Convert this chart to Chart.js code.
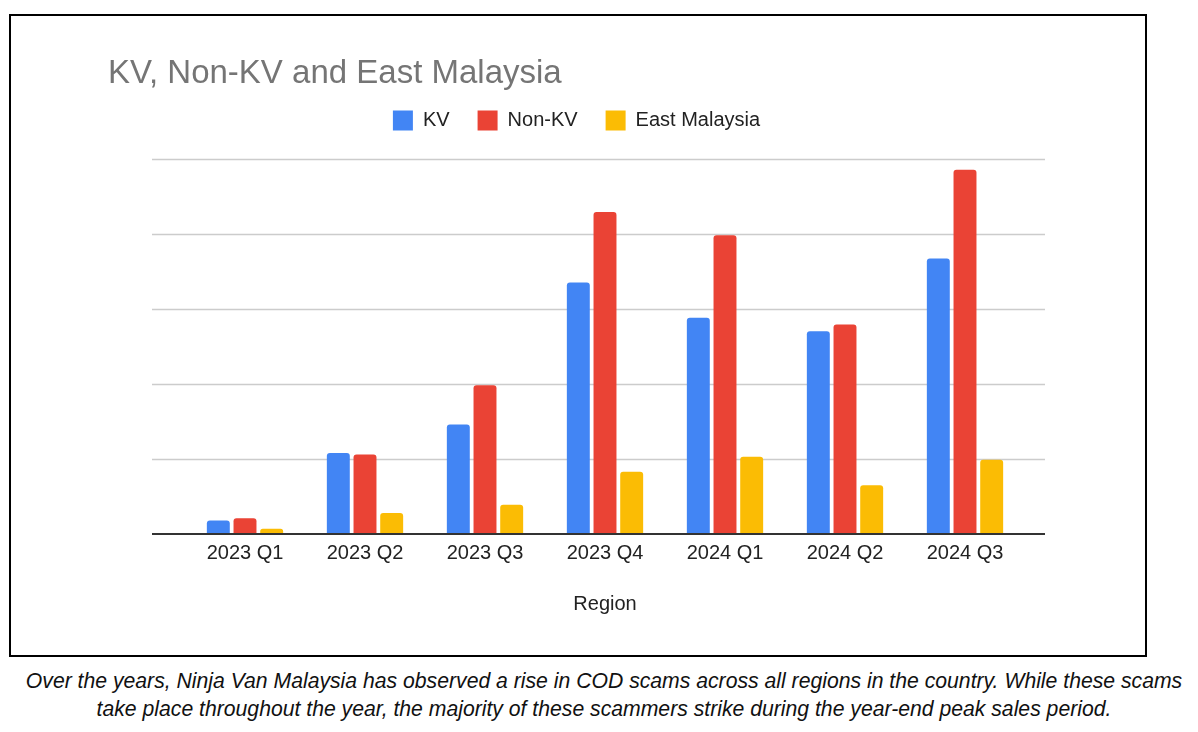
<!DOCTYPE html>
<html>
<head>
<meta charset="utf-8">
<script src="https://cdn.jsdelivr.net/npm/chart.js@4.4.1/dist/chart.umd.min.js"></script>
<style>
  body { margin: 0; background: #fff; width: 1198px; height: 732px; position: relative; overflow: hidden; }
  #box { position: absolute; left: 9px; top: 14px; width: 1138px; height: 643px; border: 2px solid #000; box-sizing: border-box; }
  #wrap { position: absolute; left: 0; top: 0; width: 1134px; height: 639px; }
  #caption { position: absolute; left: 10px; top: 667px; width: 1188px; text-align: center;
    font-family: "Liberation Sans", Arial, sans-serif; font-style: italic; font-size: 21.2px; line-height: 28px; color: #111; }
</style>
</head>
<body>
<div id="box"><div id="wrap"><canvas id="chart"></canvas></div></div>
<div id="caption">Over the years, Ninja Van Malaysia has observed a rise in COD scams across all regions in the country. While these scams<br>take place throughout the year, the majority of these scammers strike during the year-end peak sales period.</div>
<script>
// data (y axis unlabeled, units = gridline steps)
const quarters = ["2023 Q1", "2023 Q2", "2023 Q3", "2023 Q4", "2024 Q1", "2024 Q2", "2024 Q3"];
const kv = [0.18, 1.08, 1.46, 3.35, 2.88, 2.70, 3.67];
const nonKv = [0.21, 1.06, 1.98, 4.29, 3.98, 2.79, 4.85];
const eastMy = [0.07, 0.28, 0.39, 0.83, 1.03, 0.65, 0.99];
const gridValues = [1, 2, 3, 4, 5];

const font = "'Liberation Sans', Arial, sans-serif";
const radius = { topLeft: 3, topRight: 3, bottomLeft: 0, bottomRight: 0 };

// google style gridlines run wider than the bar area
const gridPlugin = {
  id: "wideGrid",
  beforeLayout(chart) {
    // extra space under the legend row, like the sheets chart
    if (chart.legend && !chart.legend._patched) {
      const fit = chart.legend.fit;
      chart.legend.fit = function () {
        fit.call(this);
        this.height += 18;
      };
      chart.legend._patched = true;
    }
  },
  beforeDatasetsDraw(chart) {
    const ctx = chart.ctx;
    const y = chart.scales.y;
    const x0 = chart.chartArea.left - 33, x1 = chart.chartArea.right + 20;
    ctx.save();
    ctx.strokeStyle = "#cccccc";
    ctx.lineWidth = 1.5;
    gridValues.forEach(v => {
      const py = Math.round(y.getPixelForValue(v)) + 0.5;
      ctx.beginPath();
      ctx.moveTo(x0, py);
      ctx.lineTo(x1, py);
      ctx.stroke();
    });
    ctx.restore();
  },
  afterDatasetsDraw(chart) {
    const ctx = chart.ctx;
    const py = chart.scales.y.getPixelForValue(0);
    ctx.save();
    ctx.strokeStyle = "#333333";
    ctx.lineWidth = 2;
    ctx.beginPath();
    ctx.moveTo(chart.chartArea.left - 33, py);
    ctx.lineTo(chart.chartArea.right + 20, py);
    ctx.stroke();
    ctx.restore();
  }
};

const ctx = document.getElementById("chart").getContext("2d");
const chart = new Chart(ctx, {
  type: "bar",
  data: {
    labels: quarters,
    datasets: [
      { label: "KV", data: kv, backgroundColor: "#4285F4" },
      { label: "Non-KV", data: nonKv, backgroundColor: "#EA4335" },
      { label: "East Malaysia", data: eastMy, backgroundColor: "#FBBC04" }
    ]
  },
  plugins: [gridPlugin],
  options: {
    responsive: true,
    maintainAspectRatio: false,
    animation: false,
    layout: {
      padding: { left: 97, right: 100, top: 0, bottom: 39 }
    },
    datasets: {
      bar: {
        barPercentage: 0.86,
        categoryPercentage: 0.667,
        borderRadius: radius
      }
    },
    plugins: {
      title: {
        display: true,
        text: "KV, Non-KV and East Malaysia",
        align: "start",
        color: "#757575",
        font: { family: font, size: 33, weight: "normal" },
        padding: { top: 38, bottom: -11 }
      },
      legend: {
        display: true,
        labels: {
          boxWidth: 20,
          boxHeight: 20,
          padding: 28,
          color: "#222222",
          font: { family: font, size: 20 }
        }
      },
      tooltip: { enabled: false }
    },
    scales: {
      x: {
        grid: { display: false, drawTicks: false },
        border: { display: false },
        ticks: {
          color: "#222222",
          padding: 7,
          font: { family: font, size: 20 }
        },
        title: {
          display: true,
          text: "Region",
          color: "#222222",
          padding: { top: 20, bottom: 0 },
          font: { family: font, size: 20 }
        }
      },
      y: {
        min: 0,
        max: 5,
        grid: { display: false },
        border: { display: false },
        ticks: { display: false, stepSize: 1 },
        afterFit(scale) { scale.width = 77; }
      },
      yRight: {
        position: "right",
        grid: { display: false },
        border: { display: false },
        ticks: { display: false },
        afterFit(scale) { scale.width = 20; }
      }
    }
  }
});
</script>
</body>
</html>
